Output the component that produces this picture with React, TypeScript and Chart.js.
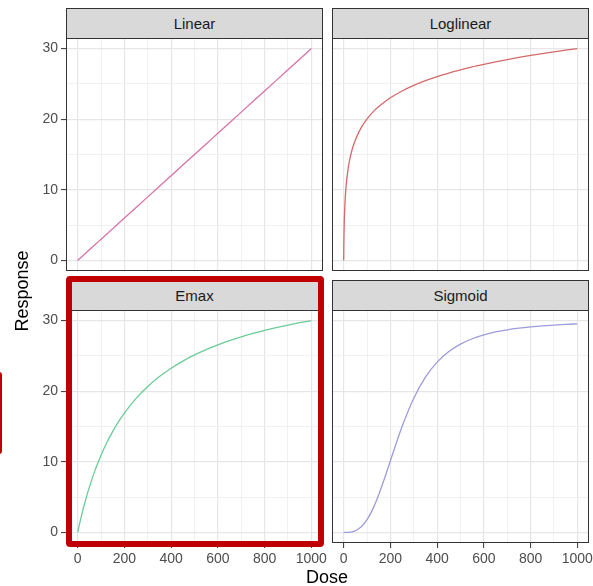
import React, { useEffect, useRef } from "react";
import { Chart, registerables } from "chart.js";

Chart.register(...registerables);

// ---- data ----
const doses = [0, 0.5, 1, 2, 3, 5, 10, 20, 30, 40, 50, 75, 100, 125, 150, 175, 200, 250, 300, 350, 400, 450, 500, 550, 600, 650, 700, 750, 800, 850, 900, 950, 1000];
const linearResp = [0, 0.015, 0.03, 0.06, 0.09, 0.15, 0.3, 0.6, 0.9, 1.2, 1.5, 2.25, 3, 3.75, 4.5, 5.25, 6, 7.5, 9, 10.5, 12, 13.5, 15, 16.5, 18, 19.5, 21, 22.5, 24, 25.5, 27, 28.5, 30];
const loglinearResp = [0, 1.76, 3.01, 4.77, 6.02, 7.78, 10.41, 13.22, 14.91, 16.13, 17.07, 18.81, 20.04, 21.0, 21.79, 22.45, 23.03, 23.99, 24.78, 25.45, 26.03, 26.54, 26.99, 27.41, 27.78, 28.13, 28.45, 28.75, 29.03, 29.29, 29.54, 29.78, 30.0];
const emaxResp = [0, 0.08, 0.15, 0.31, 0.46, 0.76, 1.49, 2.86, 4.13, 5.31, 6.41, 8.86, 10.94, 12.74, 14.31, 15.69, 16.91, 18.98, 20.67, 22.07, 23.25, 24.26, 25.14, 25.9, 26.57, 27.17, 27.7, 28.18, 28.62, 29.01, 29.37, 29.7, 30.0];
const sigmoidResp = [0, 0, 0, 0, 0, 0, 0.002, 0.015, 0.052, 0.122, 0.238, 0.789, 1.81, 3.33, 5.33, 7.66, 10.16, 15.0, 19.0, 21.99, 24.11, 25.61, 26.67, 27.43, 27.98, 28.39, 28.7, 28.93, 29.11, 29.26, 29.37, 29.46, 29.54];

const panelTitles = ["Linear", "Loglinear", "Emax", "Sigmoid"];
const panelColors = ["#D873A8", "#D46A6A", "#6CCB9A", "#9E9BDB"];
const panelValues = [linearResp, loglinearResp, emaxResp, sigmoidResp];

const xGridTicks = [0, 100, 200, 300, 400, 500, 600, 700, 800, 900, 1000];
const xLabelTicks = [0, 200, 400, 600, 800, 1000];
const yGridTicks = [0, 5, 10, 15, 20, 25, 30];
const yLabelTicks = [0, 10, 20, 30];

const xTitle = "Dose";
const yTitle = "Response";

const FONT = "'Liberation Sans', Arial, Helvetica, sans-serif";

const panelBorder = {
  id: "panelBorder",
  afterDraw(chart: any) {
    const { ctx, chartArea } = chart;
    const { left, top, right, bottom } = chartArea;
    ctx.save();
    ctx.strokeStyle = "#333333";
    ctx.lineWidth = 1;
    ctx.strokeRect(left + 0.5, top + 0.5, right - left - 1, bottom - top - 1);
    ctx.restore();
  },
};

const PW = 257;
const PH = 233;
const PAD = 16;

function Panel({ idx }: { idx: number }) {
  const ref = useRef<HTMLCanvasElement>(null);
  const row = Math.floor(idx / 2);
  const col = idx % 2;
  const PL = col === 0 ? 66 : 332;
  const PT = row === 0 ? 38 : 310;
  const yW = col === 0 ? 36 : 0;
  const xH = row === 1 ? 30 : 0;
  const cw = PAD + yW + PW + PAD;
  const ch = PAD + PH + xH + PAD;
  const cl = PL - yW - PAD;
  const ct = PT - PAD;

  useEffect(() => {
    const values = panelValues[idx];
    const chart = new Chart(ref.current as HTMLCanvasElement, {
      type: "scatter",
      data: {
        datasets: [
          {
            data: doses.map((d, i) => ({ x: d, y: values[i] })),
            showLine: true,
            borderColor: panelColors[idx],
            borderWidth: 1.3,
            pointRadius: 0,
            cubicInterpolationMode: "monotone",
            fill: false,
          } as any,
        ],
      },
      options: {
        responsive: false,
        animation: false,
        events: [],
        layout: { padding: PAD },
        plugins: {
          legend: { display: false },
          tooltip: { enabled: false },
          title: { display: false },
        },
        scales: {
          x: {
            type: "linear",
            min: -50,
            max: 1050,
            afterBuildTicks: (s: any) => {
              s.ticks = xGridTicks.map((v) => ({ value: v }));
            },
            afterFit: (s: any) => {
              s.height = xH;
            },
            border: { display: false },
            grid: {
              color: (c: any) => (c.tick && xLabelTicks.includes(c.tick.value) ? "#E6E6E6" : "#EFEFEF"),
              lineWidth: (c: any) => (c.tick && xLabelTicks.includes(c.tick.value) ? 1.2 : 0.9),
              drawTicks: row === 1,
              tickLength: 5,
              tickWidth: 1,
              tickColor: (c: any) => (c.tick && xLabelTicks.includes(c.tick.value) ? "#333333" : "rgba(0,0,0,0)"),
            },
            ticks: {
              display: row === 1,
              autoSkip: false,
              maxRotation: 0,
              padding: 3,
              color: "#4D4D4D",
              font: { family: FONT, size: 14 },
              callback: (v: any) => (xLabelTicks.includes(Number(v)) ? String(v) : ""),
            },
          },
          y: {
            type: "linear",
            min: -1.5,
            max: 31.5,
            afterBuildTicks: (s: any) => {
              s.ticks = yGridTicks.map((v) => ({ value: v }));
            },
            afterFit: (s: any) => {
              s.width = yW;
            },
            border: { display: false },
            grid: {
              color: (c: any) => (c.tick && yLabelTicks.includes(c.tick.value) ? "#E6E6E6" : "#EFEFEF"),
              lineWidth: (c: any) => (c.tick && yLabelTicks.includes(c.tick.value) ? 1.2 : 0.9),
              drawTicks: col === 0,
              tickLength: 5,
              tickWidth: 1,
              tickColor: (c: any) => (c.tick && yLabelTicks.includes(c.tick.value) ? "#333333" : "rgba(0,0,0,0)"),
            },
            ticks: {
              display: col === 0,
              autoSkip: false,
              padding: 3,
              color: "#4D4D4D",
              font: { family: FONT, size: 14 },
              callback: (v: any) => (yLabelTicks.includes(Number(v)) ? String(v) : ""),
            },
          },
        },
      },
      plugins: [panelBorder],
    });
    return () => chart.destroy();
  }, []);

  return (
    <>
      <canvas
        ref={ref}
        width={cw}
        height={ch}
        style={{ position: "absolute", left: cl, top: ct, width: cw, height: ch }}
      />
      <div
        style={{
          position: "absolute",
          left: PL,
          top: PT - 30,
          width: PW,
          height: 31,
          boxSizing: "border-box",
          border: "1px solid #333333",
          background: "#D9D9D9",
          display: "flex",
          alignItems: "center",
          justifyContent: "center",
          fontFamily: FONT,
          fontSize: 15,
          color: "#1A1A1A",
        }}
      >
        {panelTitles[idx]}
      </div>
    </>
  );
}

export default function App() {
  return (
    <div
      style={{
        position: "absolute",
        left: 0,
        top: 0,
        width: 593,
        height: 586,
        overflow: "hidden",
        background: "#FFFFFF",
      }}
    >
      {[0, 1, 2, 3].map((i) => (
        <Panel key={i} idx={i} />
      ))}
      <div
        style={{
          position: "absolute",
          left: 22,
          top: 291,
          transform: "translate(-50%, -50%) rotate(-90deg)",
          fontFamily: FONT,
          fontSize: 18,
          color: "#000000",
          whiteSpace: "nowrap",
        }}
      >
        {yTitle}
      </div>
      <div
        style={{
          position: "absolute",
          left: 327,
          top: 577,
          transform: "translate(-50%, -50%)",
          fontFamily: FONT,
          fontSize: 18,
          color: "#000000",
          whiteSpace: "nowrap",
        }}
      >
        {xTitle}
      </div>
      <div
        style={{
          position: "absolute",
          left: 66,
          top: 276,
          width: 258,
          height: 271,
          boxSizing: "border-box",
          border: "6px solid #C00000",
          borderRadius: 4,
        }}
      />
      <div
        style={{
          position: "absolute",
          left: -6,
          top: 372,
          width: 8,
          height: 82,
          boxSizing: "border-box",
          border: "2px solid #C00000",
          borderRadius: 3,
        }}
      />
    </div>
  );
}
